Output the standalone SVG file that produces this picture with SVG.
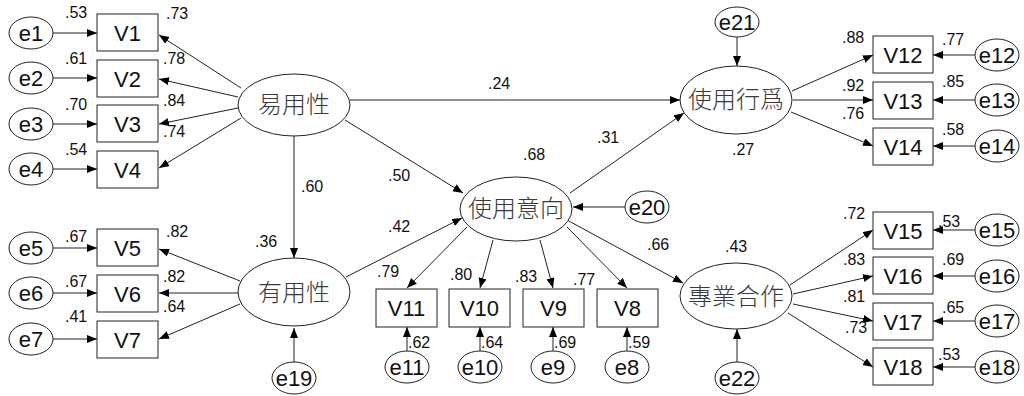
<svg xmlns="http://www.w3.org/2000/svg" width="1024" height="396" viewBox="0 0 1024 396">
<style>
.box{fill:#fff;stroke:#222;stroke-width:1}
.ell{fill:#fff;stroke:#222;stroke-width:1}
.lt{font-family:"Noto Sans CJK TC","Noto Sans CJK SC",sans-serif;font-size:24px;font-weight:300;fill:#3a3a3a;text-anchor:middle}
.vt{font-family:"Liberation Sans",Arial,sans-serif;font-size:22px;fill:#111;text-anchor:middle}
.num{font-family:"Liberation Sans",Arial,sans-serif;font-size:16px;fill:#111}
#connectors line{stroke:#222;stroke-width:1;marker-end:url(#arr)}
</style>
<defs>
<marker id="arr" markerUnits="userSpaceOnUse" markerWidth="11" markerHeight="9" refX="10" refY="4" orient="auto">
<path d="M0,0 L10,4 L0,8 z" fill="#000"/>
</marker>
</defs>
<rect width="1024" height="396" fill="#fff"/>
<g id="connectors">
<line x1="53" y1="33" x2="97" y2="33"/>
<line x1="53" y1="78" x2="97" y2="78"/>
<line x1="53" y1="124" x2="97" y2="124"/>
<line x1="53" y1="169" x2="97" y2="169"/>
<line x1="241" y1="88" x2="159" y2="35"/>
<line x1="238" y1="97" x2="159" y2="79"/>
<line x1="238" y1="108" x2="159" y2="124"/>
<line x1="241" y1="118" x2="159" y2="168"/>
<line x1="294" y1="136" x2="294" y2="258"/>
<line x1="350" y1="100" x2="680" y2="100"/>
<line x1="345" y1="120" x2="463" y2="193"/>
<line x1="240" y1="281" x2="159" y2="249"/>
<line x1="238" y1="293" x2="159" y2="293"/>
<line x1="240" y1="304" x2="159" y2="339"/>
<line x1="53" y1="248" x2="97" y2="248"/>
<line x1="53" y1="293" x2="97" y2="293"/>
<line x1="53" y1="339" x2="97" y2="339"/>
<line x1="294" y1="362" x2="294" y2="328"/>
<line x1="346" y1="277" x2="462" y2="218"/>
<line x1="625" y1="207" x2="573" y2="207"/>
<line x1="467" y1="227" x2="407" y2="288"/>
<line x1="493" y1="240" x2="480" y2="288"/>
<line x1="540" y1="240" x2="553" y2="288"/>
<line x1="567" y1="227" x2="627" y2="288"/>
<line x1="407" y1="351" x2="407" y2="327"/>
<line x1="480" y1="351" x2="480" y2="327"/>
<line x1="553" y1="351" x2="553" y2="327"/>
<line x1="627" y1="351" x2="627" y2="327"/>
<line x1="570" y1="193" x2="684" y2="113"/>
<line x1="567" y1="220" x2="683" y2="283"/>
<line x1="737" y1="37" x2="737" y2="66"/>
<line x1="792" y1="91" x2="873" y2="55"/>
<line x1="793" y1="100" x2="873" y2="100"/>
<line x1="791" y1="112" x2="873" y2="146"/>
<line x1="975" y1="55" x2="933" y2="55"/>
<line x1="975" y1="100" x2="933" y2="100"/>
<line x1="975" y1="146" x2="933" y2="146"/>
<line x1="737" y1="362" x2="737" y2="329"/>
<line x1="790" y1="285" x2="873" y2="230"/>
<line x1="793" y1="294" x2="873" y2="276"/>
<line x1="793" y1="304" x2="873" y2="321"/>
<line x1="788" y1="313" x2="873" y2="367"/>
<line x1="975" y1="230" x2="933" y2="230"/>
<line x1="975" y1="276" x2="933" y2="276"/>
<line x1="975" y1="321" x2="933" y2="321"/>
<line x1="975" y1="367" x2="933" y2="367"/>
</g>
<g id="n-ease"><ellipse class="ell" cx="294" cy="105" rx="56" ry="31"/><text class="lt" x="294" y="113">易用性</text></g>
<g id="n-useful"><ellipse class="ell" cx="294" cy="292" rx="56" ry="34"/><text class="lt" x="294" y="301">有用性</text></g>
<g id="n-intent"><ellipse class="ell" cx="516" cy="209" rx="56" ry="32"/><text class="lt" x="516" y="217">使用意向</text></g>
<g id="n-behav"><ellipse class="ell" cx="736" cy="100" rx="56" ry="34"/><text class="lt" x="736" y="108">使用行爲</text></g>
<g id="n-coop"><ellipse class="ell" cx="736" cy="296" rx="56" ry="33"/><text class="lt" x="736" y="305">專業合作</text></g>
<g id="n-V1"><rect class="box" x="97" y="14" width="61" height="37"/><text class="vt" x="127.5" y="41">V1</text></g>
<g id="n-V2"><rect class="box" x="97" y="60" width="61" height="37"/><text class="vt" x="127.5" y="87">V2</text></g>
<g id="n-V3"><rect class="box" x="97" y="105" width="61" height="37"/><text class="vt" x="127.5" y="132">V3</text></g>
<g id="n-V4"><rect class="box" x="97" y="151" width="61" height="37"/><text class="vt" x="127.5" y="178">V4</text></g>
<g id="n-V5"><rect class="box" x="97" y="229" width="61" height="37"/><text class="vt" x="127.5" y="256">V5</text></g>
<g id="n-V6"><rect class="box" x="97" y="275" width="61" height="37"/><text class="vt" x="127.5" y="302">V6</text></g>
<g id="n-V7"><rect class="box" x="97" y="321" width="61" height="37"/><text class="vt" x="127.5" y="348">V7</text></g>
<g id="n-V11"><rect class="box" x="376" y="289" width="61" height="38"/><text class="vt" x="406.5" y="316">V11</text></g>
<g id="n-V10"><rect class="box" x="449" y="289" width="61" height="38"/><text class="vt" x="479.5" y="316">V10</text></g>
<g id="n-V9"><rect class="box" x="523" y="289" width="61" height="38"/><text class="vt" x="553.5" y="316">V9</text></g>
<g id="n-V8"><rect class="box" x="597" y="289" width="61" height="38"/><text class="vt" x="627.5" y="316">V8</text></g>
<g id="n-V12"><rect class="box" x="873" y="36" width="60" height="37"/><text class="vt" x="903" y="63">V12</text></g>
<g id="n-V13"><rect class="box" x="873" y="82" width="60" height="37"/><text class="vt" x="903" y="109">V13</text></g>
<g id="n-V14"><rect class="box" x="873" y="128" width="60" height="37"/><text class="vt" x="903" y="155">V14</text></g>
<g id="n-V15"><rect class="box" x="873" y="212" width="60" height="37"/><text class="vt" x="903" y="239">V15</text></g>
<g id="n-V16"><rect class="box" x="873" y="257" width="60" height="37"/><text class="vt" x="903" y="284">V16</text></g>
<g id="n-V17"><rect class="box" x="873" y="303" width="60" height="37"/><text class="vt" x="903" y="330">V17</text></g>
<g id="n-V18"><rect class="box" x="873" y="348" width="60" height="37"/><text class="vt" x="903" y="375">V18</text></g>
<g id="n-e1"><ellipse class="ell" cx="31" cy="33" rx="22" ry="16"/><text class="vt" x="31" y="41">e1</text></g>
<g id="n-e2"><ellipse class="ell" cx="31" cy="78" rx="22" ry="16"/><text class="vt" x="31" y="86">e2</text></g>
<g id="n-e3"><ellipse class="ell" cx="31" cy="124" rx="22" ry="16"/><text class="vt" x="31" y="132">e3</text></g>
<g id="n-e4"><ellipse class="ell" cx="31" cy="169" rx="22" ry="16"/><text class="vt" x="31" y="177">e4</text></g>
<g id="n-e5"><ellipse class="ell" cx="31" cy="248" rx="22" ry="16"/><text class="vt" x="31" y="256">e5</text></g>
<g id="n-e6"><ellipse class="ell" cx="31" cy="293" rx="22" ry="16"/><text class="vt" x="31" y="301">e6</text></g>
<g id="n-e7"><ellipse class="ell" cx="31" cy="339" rx="22" ry="16"/><text class="vt" x="31" y="347">e7</text></g>
<g id="n-e11"><ellipse class="ell" cx="407" cy="367" rx="22" ry="16"/><text class="vt" x="407" y="375">e11</text></g>
<g id="n-e10"><ellipse class="ell" cx="480" cy="367" rx="22" ry="16"/><text class="vt" x="480" y="375">e10</text></g>
<g id="n-e9"><ellipse class="ell" cx="553" cy="367" rx="22" ry="16"/><text class="vt" x="553" y="375">e9</text></g>
<g id="n-e8"><ellipse class="ell" cx="627" cy="367" rx="22" ry="16"/><text class="vt" x="627" y="375">e8</text></g>
<g id="n-e19"><ellipse class="ell" cx="294" cy="378" rx="22" ry="16"/><text class="vt" x="294" y="386">e19</text></g>
<g id="n-e20"><ellipse class="ell" cx="647" cy="207" rx="22" ry="16"/><text class="vt" x="647" y="215">e20</text></g>
<g id="n-e21"><ellipse class="ell" cx="737" cy="22" rx="22" ry="15"/><text class="vt" x="737" y="30">e21</text></g>
<g id="n-e22"><ellipse class="ell" cx="737" cy="378" rx="22" ry="16"/><text class="vt" x="737" y="386">e22</text></g>
<g id="n-e12"><ellipse class="ell" cx="997" cy="55" rx="22" ry="16"/><text class="vt" x="997" y="63">e12</text></g>
<g id="n-e13"><ellipse class="ell" cx="997" cy="100" rx="22" ry="16"/><text class="vt" x="997" y="108">e13</text></g>
<g id="n-e14"><ellipse class="ell" cx="997" cy="146" rx="22" ry="16"/><text class="vt" x="997" y="154">e14</text></g>
<g id="n-e15"><ellipse class="ell" cx="997" cy="230" rx="22" ry="16"/><text class="vt" x="997" y="238">e15</text></g>
<g id="n-e16"><ellipse class="ell" cx="997" cy="276" rx="22" ry="16"/><text class="vt" x="997" y="284">e16</text></g>
<g id="n-e17"><ellipse class="ell" cx="997" cy="321" rx="22" ry="16"/><text class="vt" x="997" y="329">e17</text></g>
<g id="n-e18"><ellipse class="ell" cx="997" cy="367" rx="22" ry="16"/><text class="vt" x="997" y="375">e18</text></g>
<g id="labels" class="num">
<text x="65" y="18">.53</text><text x="65" y="64">.61</text><text x="65" y="110">.70</text><text x="65" y="155">.54</text>
<text x="166" y="19">.73</text><text x="163" y="64">.78</text><text x="163" y="106">.84</text><text x="163" y="137">.74</text>
<text x="301" y="192">.60</text>
<text x="65" y="242">.67</text><text x="65" y="287">.67</text><text x="65" y="322">.41</text>
<text x="166" y="237">.82</text><text x="163" y="282">.82</text><text x="163" y="312">.64</text><text x="255" y="247">.36</text>
<text x="388" y="181">.50</text><text x="388" y="232">.42</text><text x="523" y="160">.68</text><text x="597" y="143">.31</text><text x="488" y="89">.24</text>
<text x="647" y="250">.66</text>
<text x="377" y="277">.79</text><text x="450" y="280">.80</text><text x="515" y="282">.83</text><text x="573" y="285">.77</text>
<text x="408" y="348">.62</text><text x="481" y="348">.64</text><text x="554" y="348">.69</text><text x="628" y="348">.59</text>
<text x="732" y="155">.27</text><text x="842" y="43">.88</text><text x="842" y="91">.92</text><text x="842" y="119">.76</text>
<text x="942" y="45">.77</text><text x="942" y="87">.85</text><text x="942" y="135">.58</text>
<text x="725" y="252">.43</text><text x="843" y="219">.72</text><text x="843" y="265">.83</text><text x="843" y="302">.81</text><text x="845" y="333">.73</text>
<text x="938" y="227">.53</text><text x="942" y="265">.69</text><text x="942" y="313">.65</text><text x="938" y="360">.53</text>
</g>
</svg>
